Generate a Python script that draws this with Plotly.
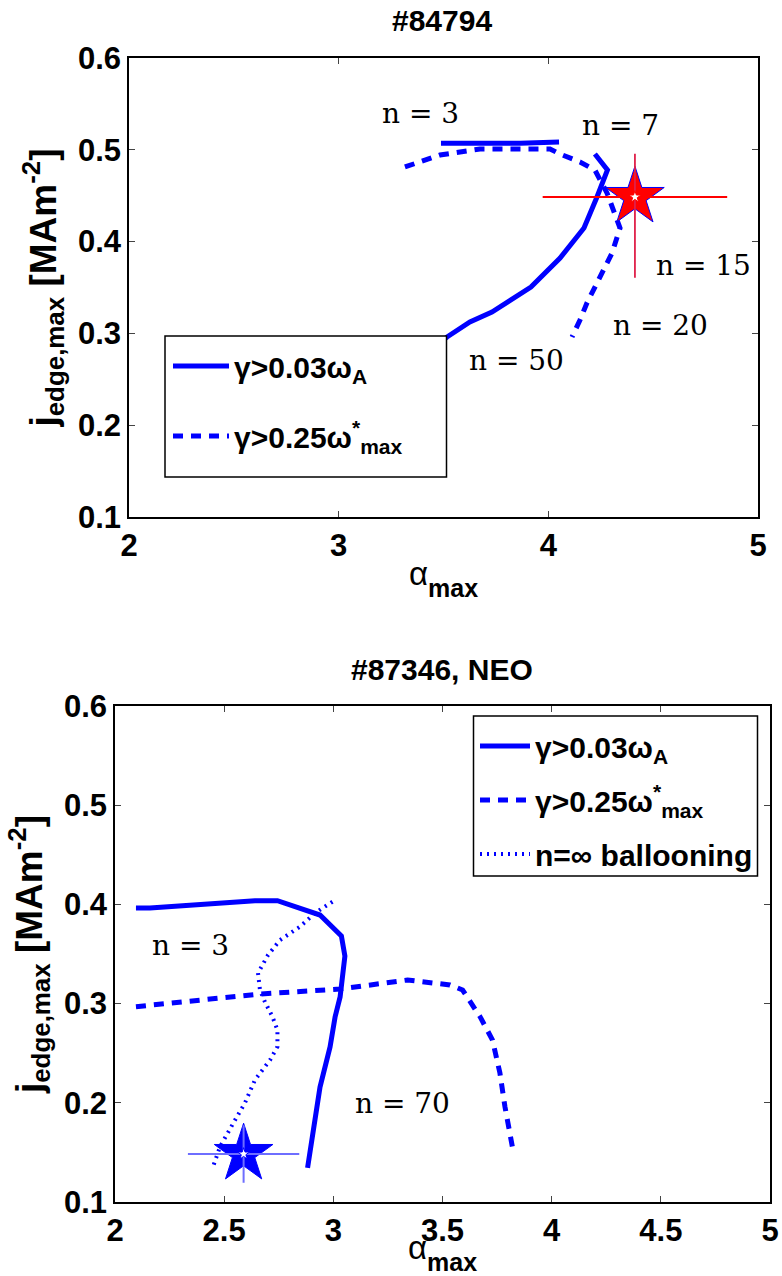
import plotly.graph_objects as go

# ---------- data: top panel (#84794) ----------
top_solid_x = [3.488, 3.865, 4.051, None, 4.222, 4.282, 4.232, 4.170, 4.056, 3.917, 3.731, 3.626, 3.517, 3.40]
top_solid_y = [0.507, 0.507, 0.5085, None, 0.4954, 0.478, 0.4486, 0.4148, 0.3821, 0.3505, 0.3233, 0.3124, 0.2961, 0.275]
top_dash_x = [3.316, 3.483, 3.674, 4.008, 4.056, 4.151, 4.222, 4.280, 4.342, 4.304, 4.232, 4.184, 4.151, 4.113]
top_dash_y = [0.4813, 0.4943, 0.5009, 0.5009, 0.4954, 0.4867, 0.478, 0.4529, 0.4148, 0.3876, 0.3549, 0.3331, 0.3146, 0.2961]
top_star_x = [4.413]
top_star_y = [0.4486]
top_star_xerr = [0.44]
top_star_yerr_plus = [0.047]
top_star_yerr_minus = [0.088]
top_labels = ["n = 3", "n = 7", "n = 15", "n = 20", "n = 50"]
top_label_x = [3.388, 4.342, 4.738, 4.537, 3.846]
top_label_y = [0.540, 0.526, 0.3745, 0.309, 0.271]

# ---------- data: bottom panel (#87346, NEO) ----------
bot_solid_x = [2.096, 2.160, 2.641, 2.744, 2.939, 3.037, 3.053, 3.042, 3.031, 3.008, 2.985, 2.939, 2.882]
bot_solid_y = [0.3964, 0.3964, 0.4037, 0.4037, 0.3893, 0.3681, 0.348, 0.3308, 0.3067, 0.2865, 0.2563, 0.2159, 0.1343]
bot_dash_x = [2.096, 2.252, 2.664, 3.031, 3.340, 3.534, 3.592, 3.672, 3.729, 3.763, 3.786, 3.821]
bot_dash_y = [0.2969, 0.3006, 0.3097, 0.3147, 0.3238, 0.3188, 0.3137, 0.2868, 0.2633, 0.230, 0.1961, 0.1544]
bot_dot_x = [2.996, 2.916, 2.847, 2.756, 2.701, 2.655, 2.664, 2.687, 2.721, 2.744, 2.744, 2.710, 2.641, 2.595, 2.550, 2.481, 2.447]
bot_dot_y = [0.4027, 0.3913, 0.3775, 0.3641, 0.349, 0.3308, 0.3137, 0.3016, 0.2868, 0.2734, 0.2566, 0.2431, 0.223, 0.1998, 0.1827, 0.1557, 0.1343]
bot_star_x = [2.589]
bot_star_y = [0.1484]
bot_star_xerr = [0.255]
bot_star_yerr = [0.029]
bot_labels = ["n = 3", "n = 70"]
bot_label_x = [2.348, 3.319]
bot_label_y = [0.359, 0.1998]

names = ["γ>0.03ω<sub>A</sub>", "γ>0.25ω<sup>*</sup><sub>max</sub>", "n=∞ ballooning"]
titles = ["#84794", "#87346, NEO"]

BLUE = "#0000ff"
SANS = "Liberation Sans, Arial, sans-serif"
SERIF = "DejaVu Serif, serif"

fig = go.Figure()

# top panel traces
fig.add_trace(go.Scatter(x=top_solid_x, y=top_solid_y, mode="lines", name=names[0],
                         line=dict(color=BLUE, width=5), xaxis="x", yaxis="y",
                         legend="legend", legendgroup="a", connectgaps=False))
fig.add_trace(go.Scatter(x=top_dash_x, y=top_dash_y, mode="lines", name=names[1],
                         line=dict(color=BLUE, width=5, dash="10px,8px"), xaxis="x", yaxis="y",
                         legend="legend", legendgroup="b"))
fig.add_trace(go.Scatter(x=top_star_x, y=top_star_y, mode="markers", showlegend=False,
                         marker=dict(symbol="star", size=44, color="#ff0000",
                                     line=dict(color=BLUE, width=1)),
                         xaxis="x", yaxis="y"))
fig.add_trace(go.Scatter(x=top_star_x, y=top_star_y, mode="markers", showlegend=False,
                         marker=dict(symbol="star", size=9, color="white",
                                     line=dict(color="#ff0000", width=1)),
                         error_x=dict(type="data", array=top_star_xerr, color="#ff0000",
                                      thickness=1.8, width=0),
                         error_y=dict(type="data", symmetric=False, array=top_star_yerr_plus,
                                      arrayminus=top_star_yerr_minus, color="#e0204a",
                                      thickness=1.8, width=0),
                         xaxis="x", yaxis="y"))

# bottom panel traces
fig.add_trace(go.Scatter(x=bot_solid_x, y=bot_solid_y, mode="lines", name=names[0],
                         line=dict(color=BLUE, width=5), xaxis="x2", yaxis="y2",
                         legend="legend2", legendgroup="c"))
fig.add_trace(go.Scatter(x=bot_dash_x, y=bot_dash_y, mode="lines", name=names[1],
                         line=dict(color=BLUE, width=5, dash="10px,8px"), xaxis="x2", yaxis="y2",
                         legend="legend2", legendgroup="d"))
fig.add_trace(go.Scatter(x=bot_dot_x, y=bot_dot_y, mode="lines", name=names[2],
                         line=dict(color=BLUE, width=4, dash="2px,5px"), xaxis="x2", yaxis="y2",
                         legend="legend2", legendgroup="e"))
fig.add_trace(go.Scatter(x=bot_star_x, y=bot_star_y, mode="markers", showlegend=False,
                         marker=dict(symbol="star", size=44, color=BLUE,
                                     line=dict(color=BLUE, width=1)),
                         xaxis="x2", yaxis="y2"))
fig.add_trace(go.Scatter(x=bot_star_x, y=bot_star_y, mode="markers", showlegend=False,
                         marker=dict(symbol="star", size=9, color="white",
                                     line=dict(color=BLUE, width=1)),
                         error_x=dict(type="data", array=bot_star_xerr, color="#6e6eff",
                                      thickness=2, width=0),
                         error_y=dict(type="data", array=bot_star_yerr, color="#6e6eff",
                                      thickness=2, width=0),
                         xaxis="x2", yaxis="y2"))

W, H = 782, 1276

def px_x(p):
    return p / W

def px_y(p):
    return 1 - p / H

axis_common = dict(showline=True, linecolor="black", linewidth=1.5, mirror="ticks",
                   ticks="inside", ticklen=6, tickwidth=1, tickcolor="#444",
                   showgrid=False, zeroline=False, automargin=False,
                   tickfont=dict(family=SANS, size=31, color="black", weight="bold"))

xtitle = dict(text="α<sub><sub><b><span style='font-size:25px'>max</span></b></sub></sub>",
              font=dict(family=SANS, size=33, color="black"), standoff=0)
ytitle = dict(text="<b>j<sub>edge,max</sub> [MAm<sup>-2</sup>]</b>",
              font=dict(family=SANS, size=37, color="black"), standoff=10)

fig.update_layout(
    width=W, height=H,
    margin=dict(l=0, r=0, t=0, b=0, autoexpand=False),
    paper_bgcolor="white", plot_bgcolor="white",
    xaxis=dict(domain=[px_x(129), px_x(758)], range=[2, 5], tickvals=[2, 3, 4, 5],
               anchor="y", title=xtitle, **axis_common),
    yaxis=dict(domain=[px_y(517), px_y(58)], range=[0.1, 0.6],
               tickvals=[0.1, 0.2, 0.3, 0.4, 0.5, 0.6], ticktext=["0.1", "0.2", "0.3", "0.4", "0.5", "0.6"],
               anchor="x", title=ytitle, **axis_common),
    xaxis2=dict(domain=[px_x(115), px_x(770)], range=[2, 5],
                tickvals=[2, 2.5, 3, 3.5, 4, 4.5, 5], ticktext=["2", "2.5", "3", "3.5", "4", "4.5", "5"],
                anchor="y2", title=xtitle, **axis_common),
    yaxis2=dict(domain=[px_y(1202), px_y(706)], range=[0.1, 0.6],
                tickvals=[0.1, 0.2, 0.3, 0.4, 0.5, 0.6], ticktext=["0.1", "0.2", "0.3", "0.4", "0.5", "0.6"],
                anchor="x2", title=ytitle, **axis_common),
    legend=dict(x=px_x(168), y=px_y(340), xanchor="left", yanchor="top",
                bgcolor="rgba(0,0,0,0)", borderwidth=0, itemwidth=56,
                traceorder="grouped", tracegroupgap=28,
                font=dict(family=SANS, size=30, color="black", weight="bold")),
    legend2=dict(x=px_x(475), y=px_y(720), xanchor="left", yanchor="top",
                 bgcolor="rgba(0,0,0,0)", borderwidth=0, itemwidth=50,
                 traceorder="grouped", tracegroupgap=12,
                 font=dict(family=SANS, size=30, color="black", weight="bold")),
    showlegend=True,
)

# legend boxes (white, black border) drawn above the data lines
fig.add_shape(type="rect", xref="paper", yref="paper",
              x0=px_x(165), x1=px_x(446.5), y0=px_y(477), y1=px_y(336),
              fillcolor="white", line=dict(color="black", width=1.5), layer="above")
fig.add_shape(type="rect", xref="paper", yref="paper",
              x0=px_x(473.5), x1=px_x(757.5), y0=px_y(876), y1=px_y(716),
              fillcolor="white", line=dict(color="black", width=1.5), layer="above")

# panel titles
for t, yp in zip(titles, [21, 669]):
    fig.add_annotation(text=t, xref="paper", yref="paper", x=px_x(442), y=px_y(yp),
                       showarrow=False, xanchor="center", yanchor="middle",
                       font=dict(family=SANS, size=30, color="black", weight="bold"))

# n labels
top_bg = ["rgba(0,0,0,0)", "rgba(0,0,0,0)", "white", "rgba(0,0,0,0)", "white"]
for t, xv, yv, bg in zip(top_labels, top_label_x, top_label_y, top_bg):
    fig.add_annotation(text=t, x=xv, y=yv, xref="x", yref="y", showarrow=False,
                       xanchor="center", yanchor="middle", bgcolor=bg, borderpad=4,
                       font=dict(family=SERIF, size=28, color="black"))
for t, xv, yv in zip(bot_labels, bot_label_x, bot_label_y):
    fig.add_annotation(text=t, x=xv, y=yv, xref="x2", yref="y2", showarrow=False,
                       xanchor="center", yanchor="middle",
                       font=dict(family=SERIF, size=28, color="black"))

fig.write_html("out.html")
